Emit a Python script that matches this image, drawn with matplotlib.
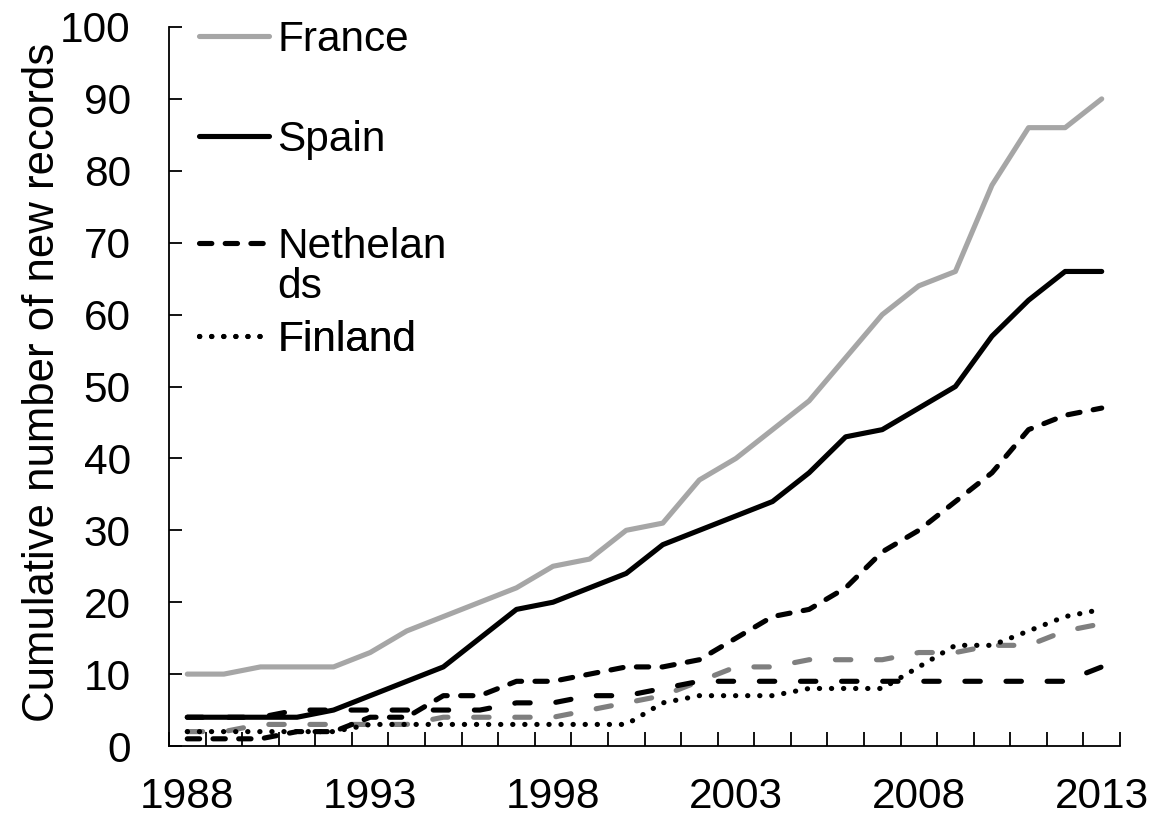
import matplotlib
matplotlib.use("Agg")
import matplotlib.pyplot as plt
from matplotlib.lines import Line2D

plt.rcParams['font.family'] = ['Liberation Sans', 'DejaVu Sans']

# data
years = list(range(1988, 2014))
france = [10, 10, 11, 11, 11, 13, 16, 18, 20, 22, 25, 26, 30, 31, 37, 40,
          44, 48, 54, 60, 64, 66, 78, 86, 86, 90]
spain = [4, 4, 4, 4, 5, 7, 9, 11, 15, 19, 20, 22, 24, 28, 30, 32,
         34, 38, 43, 44, 47, 50, 57, 62, 66, 66]
netherlands = [1, 1, 1, 2, 2, 4, 4, 7, 7, 9, 9, 10, 11, 11, 12, 15,
               18, 19, 22, 27, 30, 34, 38, 44, 46, 47]
finland = [2, 2, 2, 2, 2, 3, 3, 3, 3, 3, 3, 3, 3, 6, 7, 7,
           7, 8, 8, 8, 11, 14, 14, 16, 18, 19]
# two unlabelled series (no legend entry in the original)
black_long = [4, 4, 4, 5, 5, 5, 5, 5, 5, 6, 6, 7, 7, 8, 9, 9,
              9, 9, 9, 9, 9, 9, 9, 9, 9, 11]
gray_long = [2, 2, 3, 3, 3, 3, 3, 4, 4, 4, 4, 5, 6, 7, 9, 11,
             11, 12, 12, 12, 13, 13, 14, 14, 16, 17]

label_years = [1988, 1993, 1998, 2003, 2008, 2013]
fs_tick = 30.5
fs_lab = 31.5
fs_leg = 30.5
lw = 3.7

fig = plt.figure(figsize=(11.58, 8.18), dpi=100)
ax = fig.add_axes([169 / 1158, 1 - 746 / 818, (1120 - 169) / 1158, 719 / 818])

ax.plot(years, gray_long, color='#7f7f7f', lw=lw, linestyle=(0, (3.0, 5.0)),
        dash_capstyle='round')
ax.plot(years, black_long, color='black', lw=lw, linestyle=(0, (3.0, 5.0)),
        dash_capstyle='round')
l_fin, = ax.plot(years, finland, color='black', lw=lw, linestyle=(0, (0.05, 2.3)),
                 dash_capstyle='round')
l_neth, = ax.plot(years, netherlands, color='black', lw=lw, linestyle=(0, (2.4, 2.6)),
                  dash_capstyle='round')
l_fr, = ax.plot(years, france, color='#a6a6a6', lw=lw, solid_capstyle='round',
                solid_joinstyle='round')
l_sp, = ax.plot(years, spain, color='black', lw=lw, solid_capstyle='round',
                solid_joinstyle='round')

ax.set_xlim(1987.5, 2013.5)
ax.set_ylim(0, 100)
ax.set_yticks(range(0, 101, 10))
ax.set_xticks([y - 0.5 for y in years] + [2013.5])
ax.set_xticklabels([])
ax.set_xticks(label_years, minor=True)
ax.set_xticklabels([str(y) for y in label_years], minor=True)
ax.tick_params(axis='x', which='major', direction='in', length=10, width=1.3)
ax.tick_params(axis='x', which='minor', length=0, pad=22, labelsize=fs_tick)
ax.tick_params(axis='y', direction='in', length=9.5, width=1.3, pad=27.5,
               labelsize=fs_tick)

for side in ['top', 'right']:
    ax.spines[side].set_visible(False)
for side in ['left', 'bottom']:
    ax.spines[side].set_linewidth(1.3)

ax.set_ylabel('Cumulative number of new records', fontsize=fs_lab)
ax.yaxis.set_label_coords(-0.111, 0.506)

# legend entries placed like the original (one block each)
blank = Line2D([], [], linestyle='none')
entries = [
    ([l_fr], ['France'], 40),
    ([l_sp], ['Spain'], 140),
    ([l_neth, blank], ['Nethelan', 'ds'], 267),
    ([l_fin], ['Finland'], 340),
]
for hs, labs, ypix in entries:
    leg = ax.legend(hs, labs, loc='center left',
                    bbox_to_anchor=(199 / 1158, 1 - ypix / 818),
                    bbox_transform=fig.transFigure, frameon=False,
                    fontsize=fs_leg, handlelength=1.65, handletextpad=0.2,
                    labelspacing=0.0, borderpad=0, borderaxespad=0)
    ax.add_artist(leg)

fig.savefig('out.png', dpi=100)
